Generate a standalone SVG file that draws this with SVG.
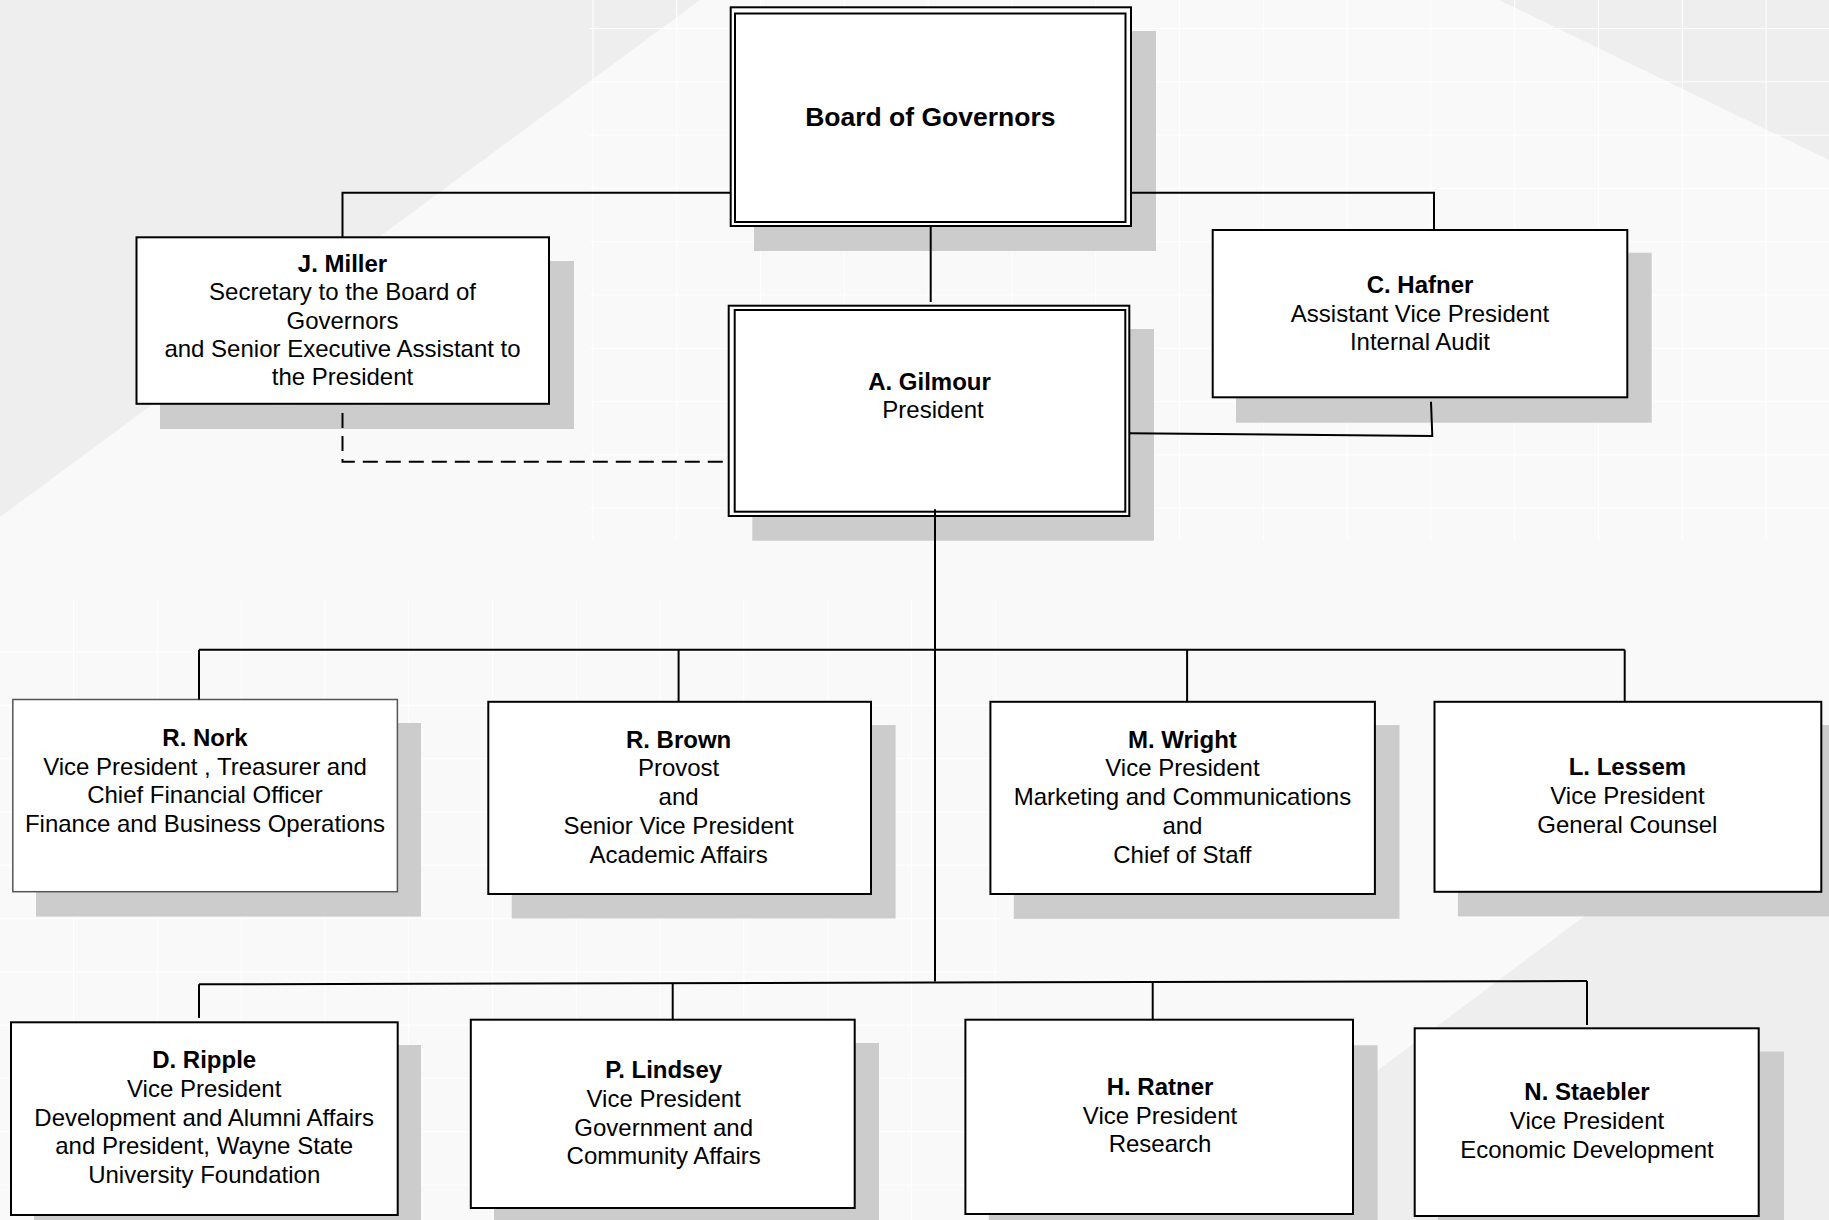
<svg xmlns="http://www.w3.org/2000/svg" width="1829" height="1220" viewBox="0 0 1829 1220">
  <defs>
    <style>
      .box { fill: #ffffff; stroke: #000000; stroke-width: 2; }
      .boxg { fill: #ffffff; stroke: #555555; stroke-width: 1.5; }
      .dbl { fill: none; stroke: #000000; stroke-width: 2; }
      .shadow { fill: #cccccc; }
      .conn { fill: none; stroke: #000000; stroke-width: 2; }
      .dash { fill: none; stroke: #000000; stroke-width: 2; stroke-dasharray: 15 8; }
      text { font-family: "Liberation Sans", Arial, sans-serif; font-size: 24px; fill: #000000; text-anchor: middle; }
      .b { font-weight: bold; }
      .title { font-weight: bold; font-size: 26.5px; }
    </style>
    <pattern id="gridA" x="760" y="28" width="83.8" height="53.3" patternUnits="userSpaceOnUse">
      <path d="M0 0 V53.3 M0 0 H83.8" stroke="#ffffff" stroke-width="2" fill="none"/>
    </pattern>
    <pattern id="gridB" x="73" y="918" width="83.8" height="53.3" patternUnits="userSpaceOnUse">
      <path d="M0 0 V53.3 M0 0 H83.8" stroke="#ffffff" stroke-width="2" fill="none"/>
    </pattern>
  </defs>

  <!-- background -->
  <rect x="0" y="0" width="1829" height="1220" fill="#f9f9f9"/>
  <polygon points="0,0 700,0 0,517" fill="#eeeeee"/>
  <polygon points="1499,0 1829,0 1829,160" fill="#eeeeee"/>
  <polygon points="1177,1220 1829,734 1829,1220" fill="#eeeeee"/>
  <rect x="590" y="0" width="1239" height="540" fill="url(#gridA)"/>
  <rect x="0" y="600" width="1000" height="620" fill="url(#gridB)"/>

  <g id="board">
    <rect class="shadow" x="754" y="31" width="402" height="220"/>
    <rect class="box" x="730.7" y="7.3" width="400.3" height="218.7"/>
    <rect class="dbl" x="735" y="13.5" width="390.5" height="208.5"/>
    <text class="title" x="930.3" y="126">Board of Governors</text>
  </g>

  <g id="miller">
    <rect class="shadow" x="160" y="261" width="414" height="168"/>
    <rect class="box" x="136.5" y="237.3" width="412.5" height="166.5"/>
    <text class="b" x="342.5" y="271.7">J. Miller</text>
    <text x="342.5" y="300.1">Secretary to the Board of</text>
    <text x="342.5" y="328.5">Governors</text>
    <text x="342.5" y="356.9">and Senior Executive Assistant to</text>
    <text x="342.5" y="385.3">the President</text>
  </g>

  <g id="hafner">
    <rect class="shadow" x="1236" y="252.7" width="415.7" height="170"/>
    <rect class="box" x="1212.7" y="230" width="414.6" height="167.3"/>
    <text class="b" x="1420" y="292.7">C. Hafner</text>
    <text x="1420" y="322">Assistant Vice President</text>
    <text x="1420" y="350.1">Internal Audit</text>
  </g>

  <g id="gilmour">
    <rect class="shadow" x="752.3" y="329" width="401.7" height="211.7"/>
    <rect class="box" x="728.7" y="305.7" width="400.6" height="210.3"/>
    <rect class="dbl" x="734.7" y="310" width="390.6" height="201.7"/>
    <text class="b" x="929.5" y="390">A. Gilmour</text>
    <text x="933" y="417.7">President</text>
  </g>

  <g id="nork">
    <rect class="shadow" x="36" y="723" width="385" height="193.6"/>
    <rect class="boxg" x="12.8" y="699.5" width="384.6" height="192.2"/>
    <text class="b" x="205" y="746.1">R. Nork</text>
    <text x="205" y="774.7">Vice President , Treasurer and</text>
    <text x="205" y="802.9">Chief Financial Officer</text>
    <text x="205" y="831.7">Finance and Business Operations</text>
  </g>

  <g id="brown">
    <rect class="shadow" x="511.7" y="725" width="383.9" height="193.5"/>
    <rect class="box" x="488.3" y="701.8" width="382.7" height="192.2"/>
    <text class="b" x="678.6" y="748">R. Brown</text>
    <text x="678.6" y="776">Provost</text>
    <text x="678.6" y="805.2">and</text>
    <text x="678.6" y="833.7">Senior Vice President</text>
    <text x="678.6" y="862.7">Academic Affairs</text>
  </g>

  <g id="wright">
    <rect class="shadow" x="1013.8" y="725" width="385.7" height="193.8"/>
    <rect class="box" x="990.4" y="701.8" width="384.5" height="192.2"/>
    <text class="b" x="1182.4" y="748">M. Wright</text>
    <text x="1182.4" y="776">Vice President</text>
    <text x="1182.4" y="805.2">Marketing and Communications</text>
    <text x="1182.4" y="833.7">and</text>
    <text x="1182.4" y="862.7">Chief of Staff</text>
  </g>

  <g id="lessem">
    <rect class="shadow" x="1457.9" y="725" width="385" height="191.4"/>
    <rect class="box" x="1434.5" y="701.8" width="386.8" height="190"/>
    <text class="b" x="1627.4" y="775.3">L. Lessem</text>
    <text x="1627.4" y="803.7">Vice President</text>
    <text x="1627.4" y="832.5">General Counsel</text>
  </g>

  <g id="ripple">
    <rect class="shadow" x="34" y="1045" width="387" height="200"/>
    <rect class="box" x="11" y="1022.3" width="386.7" height="192.7"/>
    <text class="b" x="204.2" y="1068.3">D. Ripple</text>
    <text x="204.2" y="1097">Vice President</text>
    <text x="204.2" y="1125.7">Development and Alumni Affairs</text>
    <text x="204.2" y="1154.4">and President, Wayne State</text>
    <text x="204.2" y="1183.1">University Foundation</text>
  </g>

  <g id="lindsey">
    <rect class="shadow" x="494" y="1043" width="385" height="200"/>
    <rect class="box" x="470.8" y="1019.7" width="383.9" height="188.3"/>
    <text class="b" x="663.7" y="1078">P. Lindsey</text>
    <text x="663.7" y="1106.7">Vice President</text>
    <text x="663.7" y="1135.7">Government and</text>
    <text x="663.7" y="1163.7">Community Affairs</text>
  </g>

  <g id="ratner">
    <rect class="shadow" x="988.7" y="1045.3" width="388.9" height="200"/>
    <rect class="box" x="965.4" y="1019.7" width="387.6" height="194.3"/>
    <text class="b" x="1160" y="1095.1">H. Ratner</text>
    <text x="1160" y="1123.5">Vice President</text>
    <text x="1160" y="1151.5">Research</text>
  </g>

  <g id="staebler">
    <rect class="shadow" x="1438" y="1051.5" width="346" height="200"/>
    <rect class="box" x="1414.7" y="1028.3" width="344" height="187.7"/>
    <text class="b" x="1587" y="1100">N. Staebler</text>
    <text x="1587" y="1128.5">Vice President</text>
    <text x="1587" y="1157.7">Economic Development</text>
  </g>

  <!-- connectors -->
  <g id="connectors">
    <polyline class="conn" points="730,192.7 342.5,192.7 342.5,237.3"/>
    <polyline class="conn" points="1131,192.7 1434,192.7 1434,230"/>
    <line class="conn" x1="930.7" y1="226" x2="930.7" y2="302"/>
    <polyline class="dash" points="342.5,413 342.5,461.7 724,461.7"/>
    <polyline class="conn" points="1129,433.3 1432.3,436 1431,401.7"/>
    <line class="conn" x1="935" y1="509.3" x2="935" y2="981.5"/>
    <line class="conn" x1="199" y1="649.7" x2="1624.7" y2="649.7"/>
    <line class="conn" x1="199" y1="649.7" x2="199" y2="699.5"/>
    <line class="conn" x1="678.6" y1="649.7" x2="678.6" y2="701.8"/>
    <line class="conn" x1="1187.1" y1="649.7" x2="1187.1" y2="701.8"/>
    <line class="conn" x1="1624.7" y1="649.7" x2="1624.7" y2="701.8"/>
    <line class="conn" x1="199" y1="984.3" x2="1587" y2="981"/>
    <line class="conn" x1="199" y1="984.3" x2="199" y2="1018"/>
    <line class="conn" x1="672.7" y1="983.2" x2="672.7" y2="1019.3"/>
    <line class="conn" x1="1152.7" y1="982" x2="1152.7" y2="1019.3"/>
    <line class="conn" x1="1587" y1="981" x2="1587" y2="1025"/>
  </g>
</svg>
